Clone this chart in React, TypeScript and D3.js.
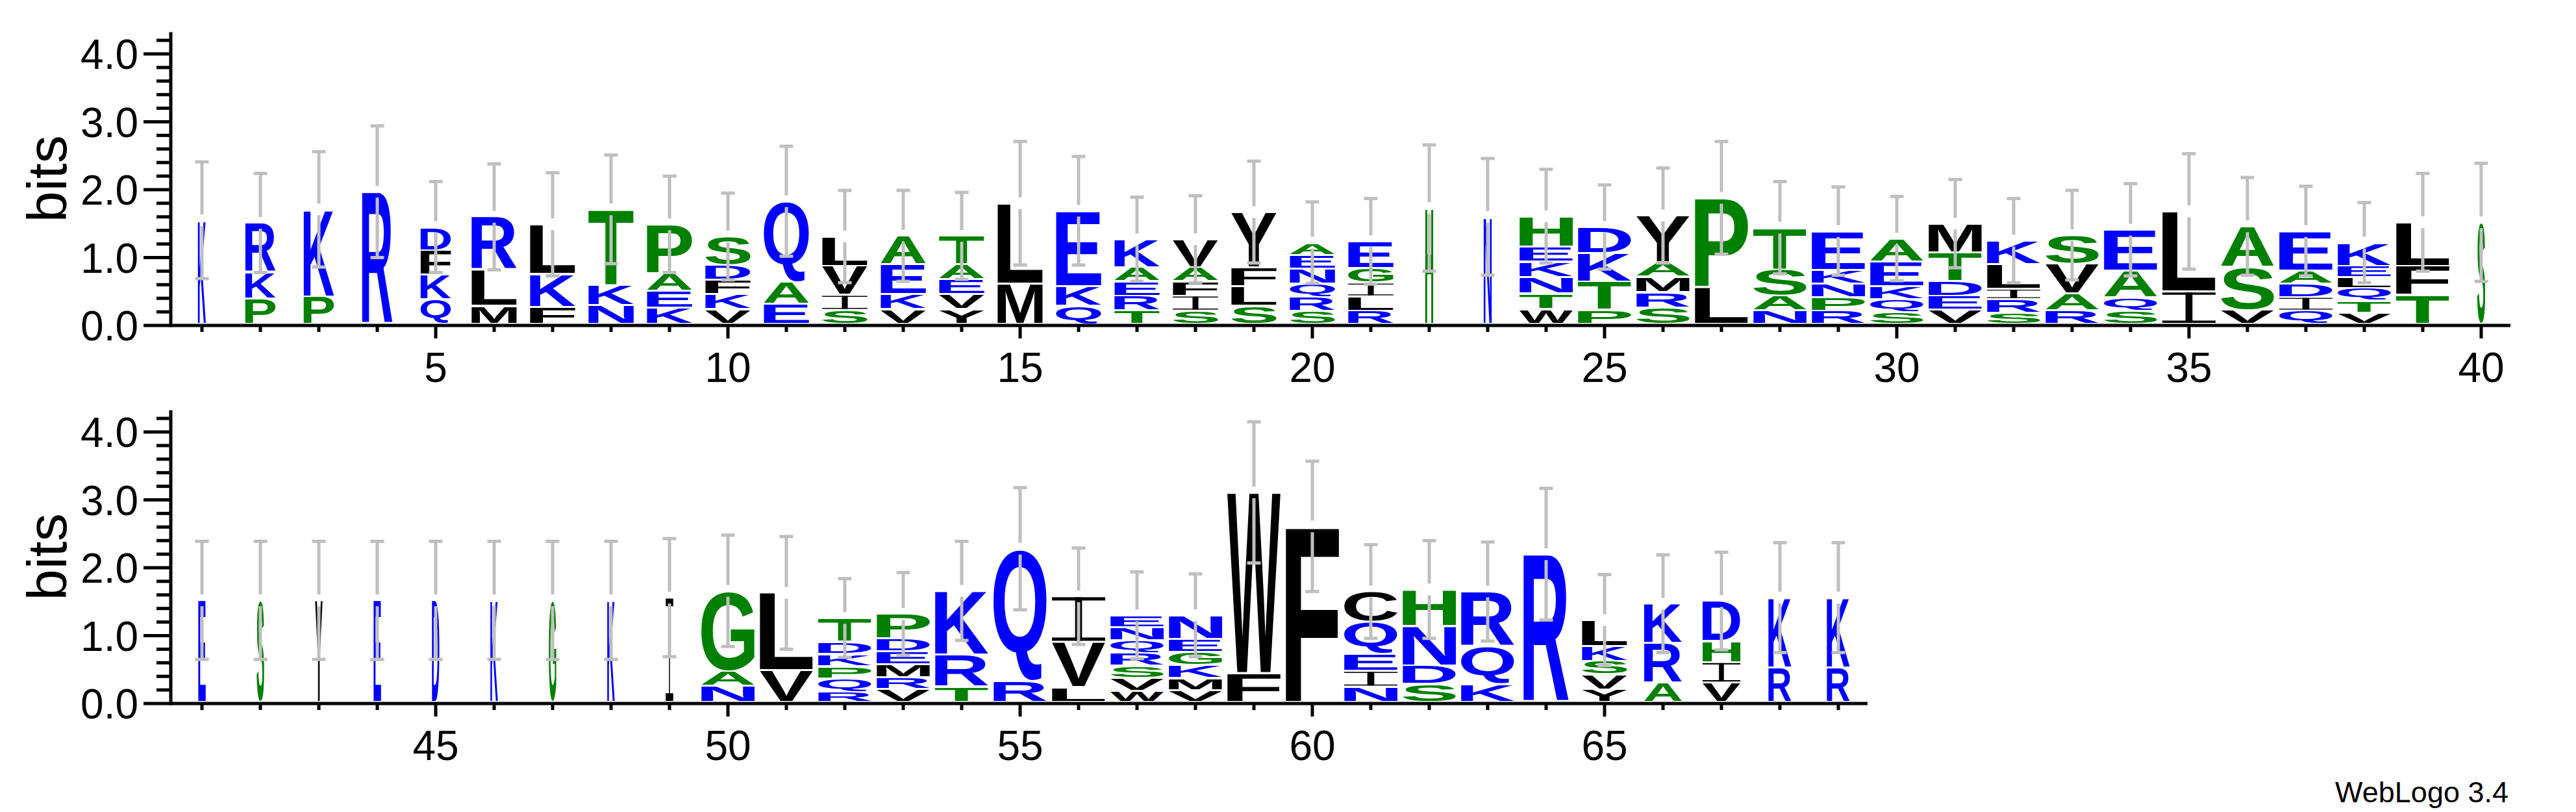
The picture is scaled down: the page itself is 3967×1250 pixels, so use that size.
import { useMemo } from 'react'
import * as d3 from 'd3'

const WIDTH = 3967
const HEIGHT = 1250

// residues of each stack, listed bottom to top (positions 1..69)
const stackLetters: string[] = [
  'K', 'PKR', 'PK', 'R', 'QKFD', 'MLR', 'FKL', 'NKT', 'KEAP', 'VKFDS',
  'EAQ', 'SIVL', 'VKEA', 'YVEAT', 'ML', 'QKE', 'TREAK', 'SIFAV', 'SLFY', 'SRQNEA',
  'RLIGE', 'H', 'N', 'WTNKEH', 'PTKD', 'SRMAY', 'LP', 'NAST', 'RPNKE', 'SQKEA',
  'VEDTM', 'SRILK', 'RAVS', 'SQAE', 'IL', 'VSA', 'QIDAE', 'VTQLEK', 'TFL', 'S',
  'E', 'S', 'Y', 'E', 'D', 'K', 'G', 'K', 'I', 'NAG',
  'VL', 'RQPKDT', 'VRMEDP', 'TRK', 'RQ', 'LVI', 'WVSRQNE', 'VMKGEN', 'FW', 'F',
  'NIEQC', 'SDNH', 'KQR', 'R', 'YVSKL', 'ARK', 'VIHD', 'RK', 'RK',
]

// height of each residue in bits, same order as stackLetters
const letterBits: number[][] = [
  [1.55], [0.40, 0.38, 0.73], [0.43, 1.28], [1.97], [0.39, 0.36, 0.36, 0.34],
  [0.29, 0.53, 0.78], [0.27, 0.49, 0.73], [0.30, 0.30, 1.11], [0.26, 0.25, 0.26, 0.72],
  [0.24, 0.22, 0.21, 0.22, 0.42], [0.32, 0.32, 1.19], [0.23, 0.22, 0.43, 0.43],
  [0.24, 0.22, 0.44, 0.42], [0.24, 0.22, 0.22, 0.22, 0.42], [0.62, 1.18], [0.29, 0.29, 1.11],
  [0.22, 0.22, 0.21, 0.21, 0.41], [0.22, 0.22, 0.21, 0.21, 0.41], [0.29, 0.29, 0.28, 0.81],
  [0.21, 0.21, 0.20, 0.22, 0.20, 0.18], [0.22, 0.21, 0.20, 0.22, 0.39], [1.73], [1.60],
  [0.24, 0.23, 0.24, 0.23, 0.22, 0.45], [0.23, 0.42, 0.42, 0.38], [0.26, 0.23, 0.23, 0.21, 0.69],
  [0.57, 1.31], [0.22, 0.22, 0.39, 0.61], [0.22, 0.20, 0.20, 0.20, 0.57],
  [0.20, 0.19, 0.19, 0.36, 0.34], [0.23, 0.21, 0.22, 0.42, 0.42], [0.19, 0.20, 0.15, 0.36, 0.35],
  [0.22, 0.25, 0.44, 0.42], [0.22, 0.19, 0.40, 0.60], [0.50, 1.18], [0.23, 0.63, 0.60],
  [0.22, 0.20, 0.20, 0.19, 0.58], [0.19, 0.18, 0.18, 0.16, 0.17, 0.34], [0.45, 0.43, 0.64], [1.52],
  [1.52], [1.52], [1.52], [1.52], [1.52], [1.52], [1.52], [1.52], [1.56], [0.26, 0.22, 1.18],
  [0.49, 1.14], [0.17, 0.20, 0.18, 0.18, 0.18, 0.35], [0.21, 0.18, 0.19, 0.19, 0.19, 0.36],
  [0.25, 0.47, 0.94], [0.34, 1.94], [0.24, 0.67, 0.67], [0.19, 0.19, 0.18, 0.19, 0.18, 0.19, 0.18],
  [0.20, 0.18, 0.19, 0.19, 0.19, 0.35], [0.45, 2.66], [2.61], [0.25, 0.23, 0.25, 0.47, 0.45],
  [0.29, 0.27, 0.58, 0.54], [0.29, 0.55, 0.81], [2.20], [0.21, 0.22, 0.20, 0.22, 0.38],
  [0.31, 0.58, 0.58], [0.31, 0.30, 0.31, 0.59], [0.53, 1.03], [0.53, 1.03],
]

// stack width as a fraction of a full column (share of non-gap sequences)
const stackWidths: number[] = [
  0.15, 0.57, 0.57, 0.57, 0.57, 0.85, 0.85, 0.85, 0.85, 0.85,
  0.85, 0.85, 0.85, 0.85, 0.85, 0.85, 0.85, 0.85, 0.85, 0.85,
  0.85, 0.15, 0.15, 1, 1, 1, 1, 1, 1, 1,
  1, 1, 1, 1, 1, 1, 1, 1, 1, 0.15,
  0.14, 0.14, 0.14, 0.14, 0.14, 0.14, 0.14, 0.14, 0.14, 1,
  1, 1, 1, 1, 1, 1, 1, 1, 1, 1,
  1, 1, 1, 0.85, 0.85, 0.71, 0.71, 0.43, 0.43,
]

// half length of the error bar, bits
const errorBits: number[] = [
  0.86, 0.73, 0.85, 0.97, 0.67, 0.78, 0.76, 0.80, 0.71, 0.64,
  0.81, 0.68, 0.67, 0.64, 0.91, 0.80, 0.62, 0.64, 0.75, 0.60,
  0.63, 0.93, 0.86, 0.69, 0.62, 0.70, 0.83, 0.68, 0.65, 0.62,
  0.65, 0.62, 0.66, 0.68, 0.85, 0.72, 0.66, 0.59, 0.72, 0.87,
  0.87, 0.87, 0.87, 0.87, 0.87, 0.87, 0.87, 0.87, 0.87, 0.82,
  0.83, 0.58, 0.61, 0.73, 0.90, 0.71, 0.64, 0.61, 1.04, 0.96,
  0.69, 0.72, 0.73, 0.97, 0.67, 0.72, 0.72, 0.81, 0.81,
]

const yMajorTicks = [0, 1, 2, 3, 4]
const yMinorTicks = [0.2, 0.4, 0.6, 0.8, 1.2, 1.4, 1.6, 1.8, 2.2, 2.4, 2.6, 2.8, 3.2, 3.4, 3.6, 3.8, 4.2]
const Y_MAX = 4.32 // log2(20)

const PER_LINE = 40
const LINE_BASES = [501, 1083]
const X_FIRST = 311
const X_STEP = 90
const FULL_W = 82
const BIT_PX = 104.5
const AXIS_X = 263

const LABEL_FONT = '"Liberation Sans", Arial, Helvetica, sans-serif'
const GLYPH_FONT = '"Liberation Sans", Arial, Helvetica, sans-serif'
const ERR_COLOR = '#bfbfbf'

function letterColor(c: string) {
  if ('RKDENQ'.includes(c)) return '#0000ff'
  if ('SGHTAP'.includes(c)) return '#008000'
  return '#000000'
}

type Metric = { l: number; r: number; a: number; d: number }

function measureGlyphs(): Record<string, Metric> {
  const ctx = document.createElement('canvas').getContext('2d')!
  ctx.font = `bold 200px ${GLYPH_FONT}`
  const out: Record<string, Metric> = {}
  for (const c of 'ACDEFGHIKLMNPQRSTVWY') {
    const m = ctx.measureText(c)
    out[c] = {
      l: m.actualBoundingBoxLeft,
      r: m.actualBoundingBoxRight,
      a: m.actualBoundingBoxAscent,
      d: m.actualBoundingBoxDescent,
    }
  }
  return out
}

function Glyph({ c, x, y, w, h, m }: { c: string; x: number; y: number; w: number; h: number; m: Metric }) {
  if (h < 0.5) return null
  const color = letterColor(c)
  if (c === 'I') {
    // serif I, like WebLogo's
    const t = Math.max(1.2, h * 0.075)
    const sw = Math.max(1, w * 0.13)
    return (
      <g fill={color}>
        <rect x={x} y={y} width={w} height={t} />
        <rect x={x} y={y + h - t} width={w} height={t} />
        <rect x={x + (w - sw) / 2} y={y} width={sw} height={h} />
      </g>
    )
  }
  const gw = m.l + m.r
  const gh = m.a + m.d
  return (
    <text
      transform={`translate(${x},${y}) scale(${w / gw},${h / gh}) translate(${m.l},${m.a})`}
      fontFamily={GLYPH_FONT}
      fontWeight="bold"
      fontSize={200}
      fill={color}
    >
      {c}
    </text>
  )
}

function LogoLine({ start, end, base, metrics }: { start: number; end: number; base: number; metrics: Record<string, Metric> }) {
  const x = d3.scaleLinear().domain([start, start + PER_LINE - 1]).range([X_FIRST, X_FIRST + (PER_LINE - 1) * X_STEP])
  const y = d3.scaleLinear().domain([0, Y_MAX]).range([base, base - Y_MAX * BIT_PX])
  const positions = stackLetters.map((_, i) => i + 1).filter((p) => p >= start && p <= end)

  return (
    <g>
      {/* y axis */}
      <line x1={AXIS_X} x2={AXIS_X} y1={y(Y_MAX)} y2={base + 2.5} stroke="#000" strokeWidth={5} />
      {yMajorTicks.map((v) => (
        <g key={'M' + v}>
          <line x1={AXIS_X - 42} x2={AXIS_X} y1={y(v)} y2={y(v)} stroke="#000" strokeWidth={5} />
          <text x={213} y={y(v) + 23} textAnchor="end" fontFamily={LABEL_FONT} fontSize={64}>
            {v.toFixed(1)}
          </text>
        </g>
      ))}
      {yMinorTicks.map((v) => (
        <line key={'m' + v} x1={AXIS_X - 22} x2={AXIS_X} y1={y(v)} y2={y(v)} stroke="#000" strokeWidth={5} />
      ))}
      <text
        transform={`translate(102,${(base + y(Y_MAX)) / 2}) rotate(-90)`}
        textAnchor="middle"
        fontFamily={LABEL_FONT}
        fontSize={86}
      >
        bits
      </text>

      {/* x axis */}
      <line x1={AXIS_X} x2={x(end) + 45} y1={base} y2={base} stroke="#000" strokeWidth={5} />
      {positions.map((p) => (
        <g key={'t' + p}>
          <line x1={x(p)} x2={x(p)} y1={base} y2={base + (p % 5 === 0 ? 20 : 10)} stroke="#000" strokeWidth={5} />
          {p % 5 === 0 && (
            <text x={x(p)} y={base + 87} textAnchor="middle" fontFamily={LABEL_FONT} fontSize={64}>
              {p}
            </text>
          )}
        </g>
      ))}

      {/* stacks */}
      {positions.map((p) => {
        const i = p - 1
        const letters = stackLetters[i].split('')
        const bits = letterBits[i]
        const cum = d3.cumsum(bits)
        const total = cum[cum.length - 1]
        const w = FULL_W * stackWidths[i]
        const cx = x(p)
        return (
          <g key={'s' + p}>
            {letters.map((c, j) => {
              const b0 = j === 0 ? 0 : cum[j - 1]
              const b1 = cum[j]
              const yTop = y(b1) + 1.5
              const yBot = j === 0 ? base - 4 : y(b0) - 1.5
              return <Glyph key={j} c={c} x={cx - w / 2} y={yTop} w={w} h={yBot - yTop} m={metrics[c]} />
            })}
          </g>
        )
      })}

      {/* error bars */}
      {positions.map((p) => {
        const i = p - 1
        const total = d3.sum(letterBits[i])
        const e = errorBits[i]
        const cx = x(p)
        const yt = y(total)
        const yUp = y(total + e)
        const yDn = y(Math.max(0, total - e))
        return (
          <g key={'e' + p} stroke={ERR_COLOR} strokeWidth={5}>
            <line x1={cx} x2={cx} y1={yUp} y2={yt - 9} />
            <line x1={cx} x2={cx} y1={yt + 9} y2={yDn} />
            <line x1={cx - 10.5} x2={cx + 10.5} y1={yUp} y2={yUp} />
            <line x1={cx - 10.5} x2={cx + 10.5} y1={yDn} y2={yDn} />
          </g>
        )
      })}
    </g>
  )
}

export default function App() {
  const metrics = useMemo(() => measureGlyphs(), [])
  const n = stackLetters.length

  return (
    <svg
      width={WIDTH}
      height={HEIGHT}
      viewBox={`0 0 ${WIDTH} ${HEIGHT}`}
      style={{ position: 'absolute', left: 0, top: 0, background: '#fff' }}
    >
      <rect width={WIDTH} height={HEIGHT} fill="#fff" />
      {LINE_BASES.map((base, k) => (
        <LogoLine
          key={k}
          start={k * PER_LINE + 1}
          end={Math.min(n, (k + 1) * PER_LINE)}
          base={base}
          metrics={metrics}
        />
      ))}
      <text x={3863} y={1235} textAnchor="end" fontFamily={LABEL_FONT} fontSize={45}>
        WebLogo 3.4
      </text>
    </svg>
  )
}
